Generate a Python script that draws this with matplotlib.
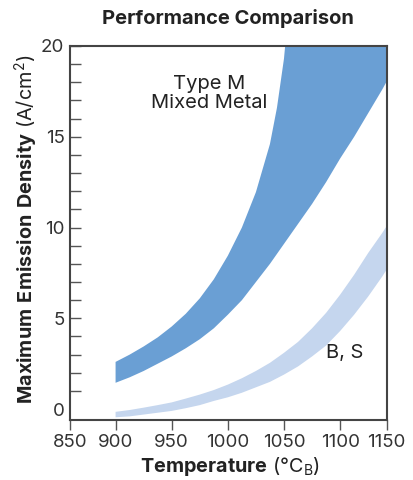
import matplotlib
matplotlib.use("Agg")
import numpy as np
import matplotlib.pyplot as plt

plt.rcParams['font.family'] = ['Inter', 'DejaVu Sans']
plt.rcParams['mathtext.fontset'] = 'custom'
plt.rcParams['mathtext.rm'] = 'Inter'
plt.rcParams['mathtext.bf'] = 'Inter:bold'

# Type M (mixed metal) band
# upper edge runs off the top; last point is just to close the shape above the frame
m_up_temp = [900, 912.5, 925, 937.5, 950, 962.5, 975, 987.5, 1000, 1012.5, 1025,
             1037.5, 1043.75, 1050, 1056.25, 1150]
m_upper = [2.6, 3.0, 3.45, 3.95, 4.55, 5.25, 6.1, 7.15, 8.45, 10.0, 11.95,
           14.6, 16.6, 19.3, 23.5, 30]

temp = [900, 912.5, 925, 937.5, 950, 962.5, 975, 987.5, 1000, 1012.5, 1025,
        1037.5, 1050, 1062.5, 1075, 1087.5, 1100, 1112.5, 1125, 1137.5, 1150]
m_lower = [1.45, 1.75, 2.1, 2.5, 2.9, 3.35, 3.85, 4.45, 5.2, 6.0, 7.0,
           8.0, 9.1, 10.2, 11.3, 12.5, 13.8, 15.0, 16.3, 17.6, 19.0]

# B, S band
bs_upper = [-0.15, -0.05, 0.08, 0.22, 0.37, 0.58, 0.8, 1.05, 1.35, 1.7, 2.1,
            2.55, 3.1, 3.7, 4.45, 5.3, 6.3, 7.4, 8.6, 9.7, 10.9]
bs_lower = [-0.45, -0.4, -0.3, -0.2, -0.1, 0.05, 0.22, 0.45, 0.65, 0.9, 1.2,
            1.5, 1.9, 2.35, 2.9, 3.5, 4.3, 5.2, 6.2, 7.3, 8.5]

# the axis ends are labelled 850 / 1150 but sit closer than the inner scale
x_min, x_max = 859.4, 1141.5
x_ticks = [x_min, 900, 950, 1000, 1050, 1100, x_max]
x_labels = ['850', '900', '950', '1000', '1050', '1100', '1150']

dark = '#6a9fd4'
light = '#c5d6ee'
ink = '#333333'

fig = plt.figure(figsize=(4.14, 4.8), dpi=100)
ax = fig.add_axes([70/414, 60/480, (386.7-70)/414, (420-46)/480])

ax.fill(m_up_temp + temp[::-1], m_upper + m_lower[::-1], color=dark, lw=0)
ax.fill(temp + temp[::-1], bs_upper + bs_lower[::-1], color=light, lw=0)

ax.set_xlim(x_min, x_max)
ax.set_ylim(-0.6, 20)

ax.set_xticks(x_ticks)
ax.set_xticklabels(x_labels)
ax.set_yticks([0, 5, 10, 15, 20])
ax.set_yticks(range(1, 20), minor=True)
ax.tick_params(axis='y', which='both', direction='in', length=8, width=1, color='#555555',
               labelsize=13.5, labelcolor=ink, pad=4)
ax.tick_params(axis='x', direction='out', length=7, width=1, color='#555555',
               labelsize=13.5, labelcolor=ink, pad=3)
ax.yaxis.get_major_ticks()[0].tick1line.set_visible(False)

for s in ax.spines.values():
    s.set_color('#444444')
    s.set_linewidth(1.5)

ax.text(983, 17.4, 'Type M\nMixed Metal', ha='center', va='center', fontsize=14.5,
        color='#222222', linespacing=1.1)
ax.text(1104.5, 3.1, 'B, S', ha='center', va='center', fontsize=14.5, color='#222222')

fig.text(228/414, 1 - 18/480, 'Performance Comparison', ha='center', va='center',
         fontsize=14.5, fontweight='bold', color='#222222')
fig.text(26/414, 1 - 229/480, r'$\bf{Maximum\ Emission\ Density}$ (A/cm$^2$)', rotation=90,
         ha='center', va='center', fontsize=14.3, color='#222222')
fig.text(230/414, 1 - 466/480, r'$\bf{Temperature}$ (°C$_\mathrm{B}$)', ha='center', va='center',
         fontsize=14.3, color='#222222')

fig.savefig('out.png', dpi=100)
